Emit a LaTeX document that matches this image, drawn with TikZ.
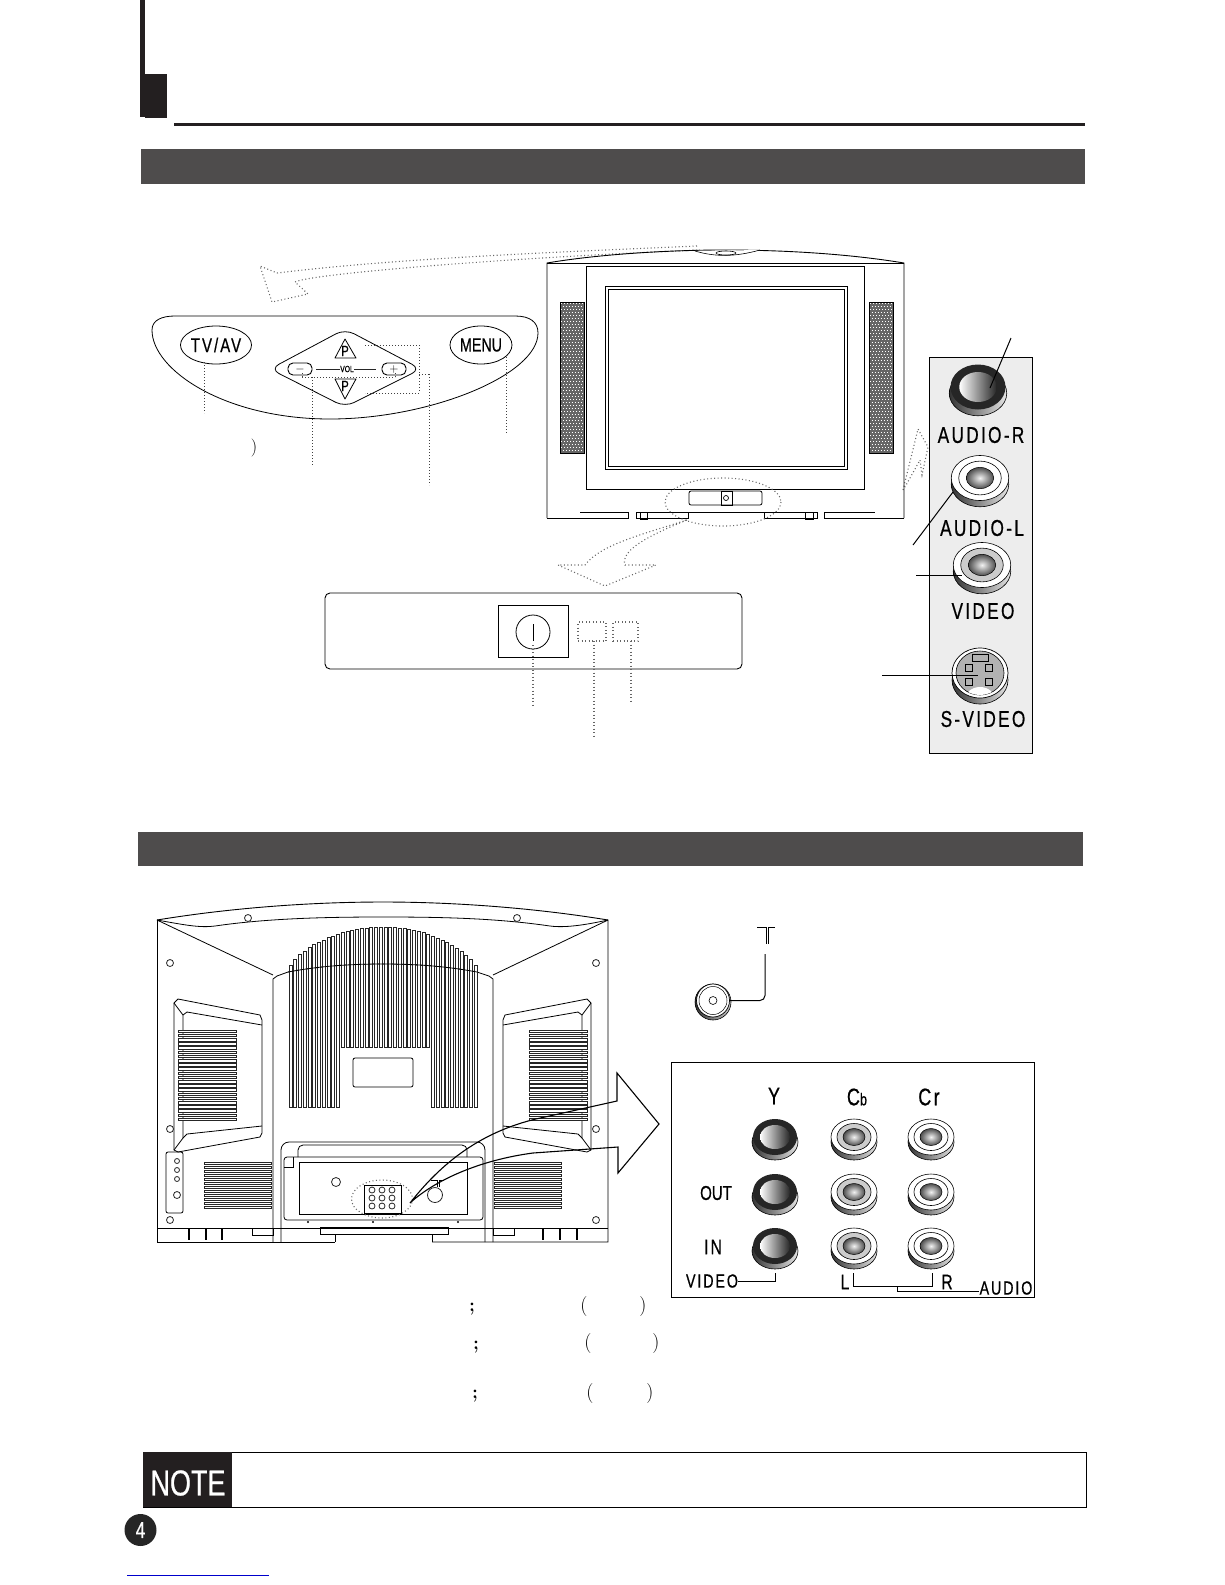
\documentclass[tikz,border=0pt]{standalone}
\usepackage{fontspec}
\usepackage{tikz}
\usetikzlibrary{positioning,shapes.geometric}
\newfontfamily\jackfont[FakeStretch=0.75,LetterSpace=10,FakeBold=0.6]{Liberation Sans}
\newfontfamily\narrowfont[FakeStretch=0.75,FakeBold=0.6]{Liberation Sans}
\newcommand{\sz}[1]{\fontsize{#1}{#1}\selectfont}
\definecolor{inkblack}{HTML}{231F20}
\definecolor{bandgray}{HTML}{4E4C4C}
\tikzset{
 leader/.style={dash pattern=on 1pt off 2pt,line width=1pt,black!75},
 faint/.style={dash pattern=on 1pt off 2.5pt,line width=1.1pt,black!60},
 wire/.style={line width=1pt,black},
 thin line/.style={line width=.8pt,black!85},
 tag/.style={shape=rectangle,inner sep=0pt,font=\jackfont\sz{23}},
 smalltag/.style={shape=rectangle,inner sep=0pt,font=\jackfont\sz{19}},
 screw/.style={line width=.8pt,black!85},
 slot/.style={line width=.65pt,black!85,fill=white}
}
% jack seen from the front: dark ring
\newcommand{\darkjack}[3]{
\begin{scope}[shift={(#1,#2)},scale=#3]
\path[draw=black,line width=.6pt,left color=black!80,right color=black!10] (0,5) ellipse [x radius=23,y radius=18];
\path[fill=black!85] (0,0) ellipse [x radius=22,y radius=18];
\path[left color=white,right color=black!85] (0,0) ellipse [x radius=15,y radius=12];
\end{scope}
}
% jack seen from the front: white ring, #4 is the colour of the inner ring
\newcommand{\lightjack}[4]{
\begin{scope}[shift={(#1,#2)},scale=#3]
\path[draw=black,line width=.6pt,left color=black!80,right color=black!10] (0,5) ellipse [x radius=23,y radius=18];
\path[draw=black,line width=.6pt,fill=white] (0,0) ellipse [x radius=23,y radius=18];
\path[draw=black,line width=.6pt,fill=#4] (0,0) ellipse [x radius=17,y radius=13.5];
\path[draw=black,line width=.5pt,inner color=black!5,outer color=black!70] (0,0) ellipse [x radius=11,y radius=8.5];
\end{scope}
}
% speaker mesh of the front of the set
\newcommand{\speakermesh}[2]{
\path[draw,fill=black!60,line width=1pt] (#1,302) rectangle (#2,453);
\foreach \m in {0,...,49}{
 \pgfmathsetmacro\my{303.5+\m*3}
 \pgfmathsetmacro\mo{mod(\m,2)*1.5}
 \path[draw=white,line width=1pt,dash pattern=on 1.2pt off 1.8pt,dash phase=\mo pt] (#1+1,\my) -- (#2-1,\my);
}
}
\begin{document}
\begin{tikzpicture}[x=1pt,y=-1pt]
\useasboundingbox (0,0) rectangle (1225,1585);

% page head
\path[fill=inkblack] (140,0) rectangle (145,117);
\path[fill=inkblack] (145,74) rectangle (167,118);
\path[fill=inkblack] (174,123) rectangle (1085,126);
\path[fill=bandgray] (141,149) rectangle (1085,184);
\path[fill=bandgray] (138,832) rectangle (1083,866);

% control panel
\path[draw,line width=.8pt] (152,330) .. controls (152,320) and (162,316) .. (175,316) -- (515,316) .. controls (530,316) and (538,322) .. (538,333) .. controls (538,375) and (430,419) .. (330,419) .. controls (225,419) and (152,370) .. (152,330);
\path (216,345) node[name=tvav,draw,shape=ellipse,line width=.8pt,minimum width=64pt,minimum height=38pt,inner sep=0pt,font=\jackfont\sz{20}] {TV/AV};
\path (481,345) node[name=menu,draw,shape=ellipse,line width=.8pt,minimum width=62pt,minimum height=38pt,inner sep=0pt,font=\narrowfont\sz{19}] {MENU};
\path[draw,line width=.8pt,rounded corners=10pt] (270,369) -- (345,329) -- (421,369) -- (345,407) -- cycle;
\path (300,369) node[name=minus,draw,shape=rectangle,line width=.9pt,rounded corners=5pt,minimum width=24pt,minimum height=12pt,inner sep=0pt,font=\sz{12}] {$-$};
\path (394,369) node[name=plus,draw,shape=rectangle,line width=.9pt,rounded corners=5pt,minimum width=24pt,minimum height=12pt,inner sep=0pt,font=\sz{12}] {$+$};
\path (347,369) node[name=vol,shape=rectangle,inner sep=0pt,font=\narrowfont\sz{9}] {VOL};
\path (316,369) coordinate (voll);
\path (376,369) coordinate (volr);
\path[thin line] (voll) edge (vol) (vol) edge (volr);
\path[draw,line width=.8pt,line join=round] (345,339) -- (356,358) -- (335,358) -- cycle;
\path[draw,line width=.8pt,line join=round] (345,399) -- (356,379) -- (335,379) -- cycle;
\path (345,351) node[name=pup,shape=rectangle,inner sep=0pt,font=\narrowfont\sz{15}] {P};
\path (345,386) node[name=pdown,shape=rectangle,inner sep=0pt,font=\narrowfont\sz{15}] {P};
\path (254,448) node[name=remparen,shape=rectangle,inner sep=0pt,font=\sz{18}] {)};

% leaders of the control panel
\path (204,362) coordinate (tvavtop);
\path (204,413) coordinate (tvavend);
\path (506,357) coordinate (menutop);
\path (506,433) coordinate (menuend);
\path (302,373) coordinate (volla);
\path (302,377) coordinate (vollb);
\path (395,377) coordinate (volrb);
\path (395,373) coordinate (volra);
\path (312,377) coordinate (volstem);
\path (312,465) coordinate (volend);
\path (365,345) coordinate (pa);
\path (419,345) coordinate (pb);
\path (419,393) coordinate (pc);
\path (365,393) coordinate (pd);
\path (419,374) coordinate (pe);
\path (429,374) coordinate (pf);
\path (429,485) coordinate (pg);
\path[leader] (tvavtop) edge (tvavend) (menutop) edge (menuend);
\path[leader] (volla) edge (vollb) (vollb) edge (volrb) (volrb) edge (volra) (volstem) edge (volend);
\path[leader] (pa) edge (pb) (pb) edge (pc) (pc) edge (pd) (pe) edge (pf) (pf) edge (pg);

% hollow dotted arrows
\path[draw,faint] (697,246) .. controls (560,252) and (400,258) .. (277,273) -- (260,266) -- (272,302) -- (308,294) -- (295,282) .. controls (310,274) and (500,258) .. (700,250);
\path[draw,faint] (903,490) -- (918,429) -- (928,447) -- (922,475) -- (920,460) -- (905,487);
\path[draw,faint] (687,520) .. controls (640,535) and (600,545) .. (585,565) -- (558,565) -- (605,586) -- (656,565) -- (625,565) .. controls (620,550) and (650,535) .. (687,520);

% tv, front
\path[draw,line width=.9pt] (547,518) -- (547,263) .. controls (600,254) and (670,250) .. (725,250) .. controls (785,250) and (850,254) .. (904,263) -- (904,518);
\path[draw,line width=.9pt] (547,263) -- (904,263);
\path[draw,line width=.9pt] (586,266) rectangle (864,489);
\path[draw,line width=1pt] (605,286) rectangle (847,469);
\path[draw,line width=1pt] (608,289) rectangle (844,466);
\speakermesh{560}{584}
\speakermesh{869}{893}
\path[draw,fill=white,line width=.6pt] (695,251) .. controls (715,257) and (735,257) .. (760,250);
\path[draw,line width=.6pt] (726,253) ellipse [x radius=10,y radius=2];
\path[draw,line width=.8pt,rounded corners=2pt] (689,491) rectangle (762,505);
\path[draw,line width=1pt] (721,491) rectangle (732,505);
\path[draw,line width=.7pt] (726,498) circle (2.5);
\path[draw,line width=.9pt] (580,512) -- (628,512) -- (628,518) -- (547,518);
\path[draw,line width=.9pt] (636,518) -- (636,512) -- (817,512);
\path[draw,line width=.9pt] (636,518) -- (688,518) -- (688,512);
\path[draw,line width=.9pt] (764,512) -- (764,518) -- (817,518) -- (817,512);
\path[draw,line width=.9pt] (824,518) -- (824,512) -- (875,512);
\path[draw,line width=.9pt] (824,518) -- (904,518);
\path[draw,line width=.8pt] (640,512) rectangle (647,519);
\path[draw,line width=.8pt] (805,512) rectangle (813,519);
\path[draw,faint] (723,502) ellipse [x radius=58,y radius=24];

% front buttons
\path[draw,line width=.9pt,rounded corners=5pt] (325,593) rectangle (742,669);
\path (533,631) node[name=powerbox,draw,shape=rectangle,line width=.9pt,minimum width=70pt,minimum height=52pt,inner sep=0pt] {};
\path (533,632) node[name=powerknob,draw,shape=circle,line width=.8pt,minimum size=34pt,inner sep=0pt] {};
\path (533,624) coordinate (powera);
\path (533,641) coordinate (powerb);
\path[wire] (powera) edge (powerb);
\path (592,631.5) node[name=lampa,draw,faint,shape=rectangle,minimum width=28pt,minimum height=19pt,inner sep=0pt] {};
\path (625.5,631.5) node[name=lampb,draw,faint,shape=rectangle,minimum width=25pt,minimum height=19pt,inner sep=0pt] {};
\path (533,645) coordinate (powerc);
\path (533,706) coordinate (powerend);
\path (594,641) coordinate (lampastem);
\path (594,739) coordinate (lampaend);
\path (631,641) coordinate (lampbstem);
\path (631,701) coordinate (lampbend);
\path[faint] (powerc) edge (powerend) (lampastem) edge (lampaend) (lampbstem) edge (lampbend);

% side jacks
\path[draw,fill=black!7,line width=1pt] (929,357) rectangle (1032,753);
\darkjack{978}{387}{1.25}
\lightjack{980}{478}{1.25}{white}
\lightjack{982}{565}{1.25}{black!20}
\path[draw=black,line width=.6pt,left color=black!80,right color=black!10] (980,680) ellipse [x radius=28,y radius=24];
\path[draw=black,line width=.7pt,fill=white] (980,673) ellipse [x radius=28,y radius=25];
\path[draw=black,line width=.6pt,fill=black!30] (980,673) ellipse [x radius=24,y radius=22];
\begin{scope}
\clip (980,673) ellipse [x radius=24,y radius=22];
\path[fill=white] (980,700) ellipse [x radius=15,y radius=13];
\end{scope}
\path[draw,line width=.7pt] (972,654) rectangle (988,661);
\foreach \pinx/\piny in {969/668,989/668,969/682,989/682}
 \path[draw,line width=.7pt] (\pinx-3.5,\piny-3.5) rectangle (\pinx+3.5,\piny+3.5);
\path (981,435) node[name=audior,tag] {AUDIO-R};
\path (982,528) node[name=audiol,tag] {AUDIO-L};
\path (983,611) node[name=videotag,tag] {VIDEO};
\path (983,719) node[name=svideo,tag] {S-VIDEO};
\path (1011,338) coordinate (leadra);
\path (990,388) coordinate (leadrb);
\path (913,545) coordinate (leadla);
\path (953,492) coordinate (leadlb);
\path (916,575) coordinate (leadva);
\path (962,575) coordinate (leadvb);
\path (882,675) coordinate (leadsa);
\path (978,675) coordinate (leadsb);
\path[wire] (leadra) edge (leadrb) (leadla) edge (leadlb) (leadva) edge (leadvb) (leadsa) edge (leadsb);

% tv, rear
\path[draw,line width=.9pt] (157,920) .. controls (230,908) and (310,902) .. (383,902) .. controls (455,902) and (535,908) .. (608,920) -- (608,1242) -- (432,1242);
\path[draw,line width=.9pt] (157,920) -- (157,1242) -- (335,1242);
\path[draw,line width=.8pt] (157,920) .. controls (185,925) and (200,928) .. (215,926) .. controls (270,918) and (330,917) .. (383,917) .. controls (440,917) and (495,918) .. (550,926) .. controls (565,928) and (585,925) .. (608,920);
\path[draw,line width=.8pt] (157,920) -- (273,975) (608,920) -- (493,975);
\path[draw,line width=.8pt] (273,1242) -- (273,979) -- (277,976) -- (288,972) .. controls (320,966) and (350,964) .. (383,964) .. controls (415,964) and (445,966) .. (477,972) -- (489,976) -- (493,979) -- (493,1242);
\foreach \i in {0,...,39}{
 \pgfmathsetmacro\xs{289+\i*4.75}
 \pgfmathsetmacro\ys{970-43*(max(0.001,1-((\xs+1.5-383)/95)^2))^0.72}
 \pgfmathsetmacro\ye{(\xs>=337 && \xs<429) ? 1047 : 1107}
 \draw[slot] (\xs,\ys) rectangle (\xs+3,\ye);
}
\path[draw,line width=.8pt] (288,972) .. controls (320,966) and (350,964) .. (383,964) .. controls (415,964) and (445,966) .. (477,972);
\path[draw,line width=.8pt,rounded corners=2pt] (353,1058) rectangle (413,1087);
\foreach \xflip/\xoff in {1/0,-1/765}{
 \begin{scope}[shift={(\xoff,0)},xscale=\xflip]
 \path[draw,line width=.8pt] (174,1150) -- (174,1003) -- (178,999) -- (260,1015) -- (262,1020) -- (262,1133) -- (260,1137) -- (178,1152) -- cycle;
 \path[draw,line width=.8pt] (174,1003) -- (183,1015) -- (183,1138) -- (174,1150);
 \path[draw,line width=.8pt] (183,1015) -- (187,1012) -- (262,1025);
 \path[draw,line width=.8pt] (183,1138) -- (187,1134) -- (262,1126);
 \foreach \j in {0,...,21}
  \path[slot,draw] (178,1030+\j*4.2) rectangle (236,1030+\j*4.2+2.6);
 \foreach \j in {0,...,11}
  \path[slot,draw] (204,1162+\j*4) rectangle (271,1162+\j*4+2.4);
 \end{scope}
}
\foreach \sx/\sy in {170/963,596/963,170/1129,596/1129,170/1220,596/1220,248/918,517/918}
 \path[draw,screw] (\sx,\sy) circle (3.5);
\path[draw,line width=.8pt,rounded corners=2pt] (166,1152) rectangle (183,1213);
\foreach \sy in {1161,1170,1179}
 \path[draw,screw] (177,\sy) circle (2.5);
\path[draw,screw] (177,1195) circle (3.5);
% input recess
\path[draw,line width=.8pt,rounded corners=8pt] (281,1242) -- (281,1142) -- (485,1142) -- (485,1242);
\path[draw,line width=.8pt,rounded corners=3pt] (284,1157) rectangle (483,1220);
\path[draw,line width=.8pt,rounded corners=5pt] (298,1157) -- (298,1145) -- (467,1145) -- (467,1157);
\path[draw,line width=.8pt] (299,1162) rectangle (467,1214);
\path[draw,line width=.6pt] (284,1167) -- (293,1167) -- (293,1157);
\path[draw,screw] (336,1182) circle (4.5);
\path[draw,screw] (435,1195) circle (7.5);
\path[draw,line width=.7pt] (431,1180) -- (437,1180) -- (437,1187) (439,1187) -- (439,1180) -- (444,1180);
\path[draw,faint] (382,1199) ellipse [x radius=30.5,y radius=19];
\path[draw,line width=.9pt] (364,1185) rectangle (401,1213);
\foreach \sx in {372,382,392}
 \foreach \sy in {1190,1198,1206}
  \path[draw,screw] (\sx,\sy) circle (3);
\foreach \sx in {308,373,458}
 \path[fill=black] (\sx,1222) circle (1.2);
% base
\path[draw,line width=.9pt] (157,1228) -- (608,1228);
\path[draw,line width=.9pt] (252,1228) rectangle (273,1235);
\path[draw,line width=.9pt] (493,1228) rectangle (514,1235);
\path[draw,line width=1pt] (320,1227) rectangle (448,1234);
\path[draw,line width=.9pt] (335,1234) -- (335,1242) (432,1234) -- (432,1242);
\foreach \sx in {189,206,222,543,560,577}
 \path[draw,line width=1.5pt] (\sx,1228) -- (\sx,1240);

% hollow arrow to the jack board
\path[draw,line width=1.1pt,fill=none] (410,1203) .. controls (440,1165) and (480,1130) .. (545,1117) -- (617,1101) -- (617,1073) -- (659,1124) -- (618,1173) -- (618,1147) -- (533,1153) .. controls (480,1160) and (435,1180) .. (410,1203);

% antenna
\path[draw,line width=.6pt,left color=black!80,right color=black!20] (713,1002) circle (18);
\path (713,1000.5) node[name=antenna,draw,shape=circle,line width=.7pt,fill=white,minimum size=33pt,inner sep=0pt] {};
\path (713,1000.5) node[name=antennain,draw,shape=circle,line width=.6pt,minimum size=8pt,inner sep=0pt] {};
\path[draw,line width=.5pt] (713,1000.5) circle (14);
\path (765,954) coordinate (antennatop);
\path[draw,wire,rounded corners=5pt] (antenna.east) -| (antennatop);
\path[draw,wire] (757,927) -- (766,927) -- (766,944) (775,927) -- (768,927) -- (768,944);

% jack board
\path[draw,line width=1pt] (671,1062) rectangle (1034,1297);
\foreach \jy in {1137,1192,1246}{
 \darkjack{775}{\jy}{1}
 \lightjack{854}{\jy}{1}{black!20}
 \lightjack{931}{\jy}{1}{white}
}
\path (774,1096) node[name=ytag,shape=rectangle,inner sep=0pt,font=\narrowfont\sz{24}] {Y};
\path (857,1097) node[name=cbtag,shape=rectangle,inner sep=0pt,font=\narrowfont\sz{24}] {C{\sz{17}b}};
\path (929,1097) node[name=crtag,shape=rectangle,inner sep=0pt,font=\jackfont\sz{24}] {Cr};
\path (716,1193) node[name=outtag,smalltag,font=\narrowfont\sz{20}] {OUT};
\path (713,1247) node[name=intag,smalltag,font=\jackfont\sz{21}] {IN};
\path (712,1281) node[name=videoout,smalltag] {VIDEO};
\path (845,1282) node[name=ltag,smalltag,font=\jackfont\sz{21}] {L};
\path (947,1282) node[name=rtag,smalltag,font=\jackfont\sz{21}] {R};
\path (1006,1288) node[name=audiotag,smalltag] {AUDIO};
\path (775,1273) coordinate (vjackfoot);
\path (853,1273) coordinate (ljackfoot);
\path (932,1273) coordinate (rjackfoot);
\path (897,1286) coordinate (audiomid);
\path (897,1291) coordinate (audiodrop);
\path[draw,wire] (videoout.east) -- (vjackfoot |- videoout.east) -- (vjackfoot);
\path[draw,wire] (ljackfoot) -- (853,1286) -- (932,1286) -- (rjackfoot);
\path[draw,wire] (audiomid) -- (audiodrop) -- (audiotag.west |- audiodrop);

% stray punctuation
\foreach \px/\py/\pname in {472/1309/sa,476/1347/sb,475/1396/sc}
 \path (\px,\py) node[name=\pname,shape=rectangle,inner sep=0pt,font=\bfseries\sz{19}] {;};
\foreach \px/\py/\pname in {584/1306/oa,588/1343/ob,590/1393/oc}
 \path (\px,\py) node[name=\pname,shape=rectangle,inner sep=0pt,font=\sz{20}] {(};
\foreach \px/\py/\pname in {643/1306/ca,656/1343/cb,650/1393/cc}
 \path (\px,\py) node[name=\pname,shape=rectangle,inner sep=0pt,font=\sz{20}] {)};

% note
\path[draw,line width=1pt] (143,1452) rectangle (1086,1507);
\path[fill=inkblack] (143,1452) rectangle (232,1507);
\path (188,1483) node[name=note,shape=rectangle,inner sep=0pt,text=white,font=\narrowfont\sz{36}] {NOTE};
\path (140.5,1530) node[name=pageno,shape=circle,fill=black!85,text=white,minimum size=32pt,inner sep=0pt,font=\narrowfont\sz{23}] {4};
\path[draw=blue!80!black,line width=1pt] (127,1575) -- (269,1575);
\end{tikzpicture}
\end{document}
